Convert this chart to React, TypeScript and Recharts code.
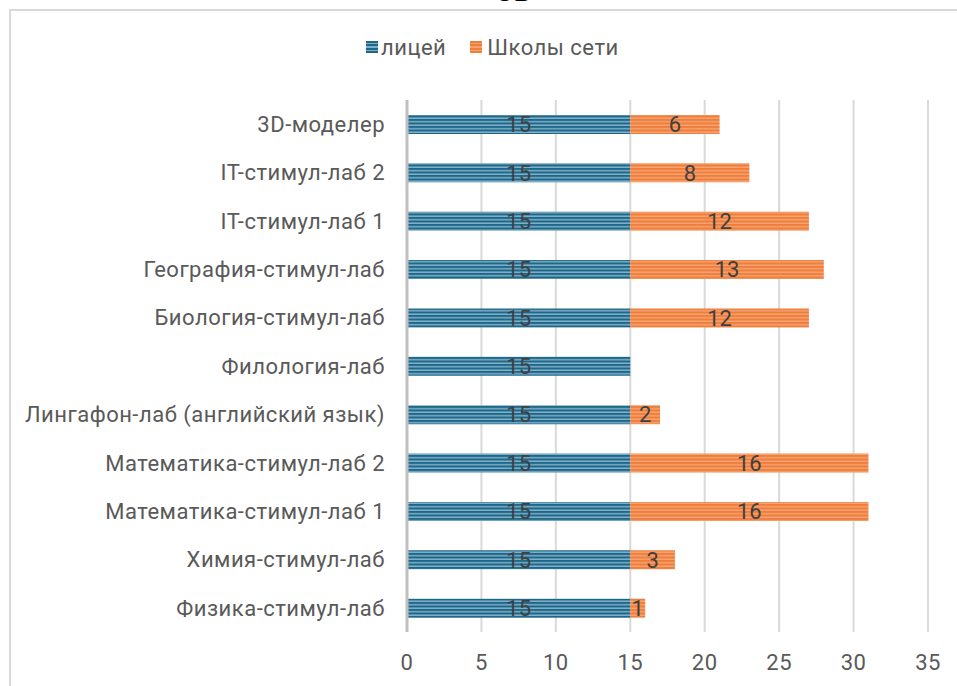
import { BarChart, Bar, XAxis, YAxis, CartesianGrid, LabelList } from 'recharts';

const categories = [
  '3D-моделер',
  'IT-стимул-лаб 2',
  'IT-стимул-лаб 1',
  'География-стимул-лаб',
  'Биология-стимул-лаб',
  'Филология-лаб',
  'Лингафон-лаб (английский язык)',
  'Математика-стимул-лаб 2',
  'Математика-стимул-лаб 1',
  'Химия-стимул-лаб',
  'Физика-стимул-лаб',
];
const lyceum = [15, 15, 15, 15, 15, 15, 15, 15, 15, 15, 15];
const schools = [6, 8, 12, 13, 12, null, 2, 16, 16, 3, 1];
const xTicks = [0, 5, 10, 15, 20, 25, 30, 35];
const seriesNames = ['лицей', 'Школы сети'];

const data = categories.map((name, i) => ({
  name,
  lyceum: lyceum[i],
  schools: schools[i],
}));

const FONT = 'Roboto, sans-serif';
const TEXT = '#595959';
const FS = 22;
const LS = 0.5;

const blueSwatch = 'repeating-linear-gradient(#1f6788 0 2px, #7fb0ca 2px 3.5px)';
const orangeSwatch = 'repeating-linear-gradient(#ef7d3c 0 2px, #f5a36f 2px 3.5px)';

export default function App() {
  return (
    <div style={{ position: 'absolute', left: 0, top: 0, width: 957, height: 686, overflow: 'hidden', background: '#fff' }}>
      {/* title of the slide, mostly cut off above the picture */}
      <div
        style={{
          position: 'absolute',
          left: 496,
          top: -19,
          fontFamily: '"Liberation Serif", serif',
          fontWeight: 'bold',
          fontSize: 22,
          letterSpacing: 2,
          color: '#000',
        }}
      >
        ОВ
      </div>
      <div
        style={{
          position: 'absolute',
          left: 9,
          top: 9,
          width: 960,
          height: 700,
          borderLeft: '2px solid #d9d9d9',
          borderTop: '2px solid #d9d9d9',
        }}
      />
      <div
        style={{
          position: 'absolute',
          left: 366,
          top: 33,
          height: 28,
          display: 'flex',
          alignItems: 'center',
          fontFamily: FONT,
          fontSize: FS,
          letterSpacing: LS,
          color: TEXT,
          whiteSpace: 'nowrap',
        }}
      >
        <span style={{ display: 'inline-block', width: 12, height: 12, backgroundImage: blueSwatch, marginRight: 3 }} />
        <span style={{ marginRight: 24 }}>{seriesNames[0]}</span>
        <span style={{ display: 'inline-block', width: 12, height: 12, backgroundImage: orangeSwatch, marginRight: 5 }} />
        <span>{seriesNames[1]}</span>
      </div>
      <div style={{ position: 'absolute', left: 0, top: 0 }}>
        <BarChart
          width={957}
          height={686}
          data={data}
          layout="vertical"
          barSize={19}
          margin={{ top: 100, right: 29, left: 0, bottom: 24 }}
        >
          <defs>
            <pattern id="blueStripe" width="4" height="3.5" patternUnits="userSpaceOnUse">
              <rect width="4" height="3.5" fill="#1f6788" />
              <rect y="2" width="4" height="1.5" fill="#7fb0ca" />
            </pattern>
            <pattern id="orangeStripe" width="4" height="3.5" patternUnits="userSpaceOnUse">
              <rect width="4" height="3.5" fill="#ef7d3c" />
              <rect y="2" width="4" height="1.5" fill="#f5a36f" />
            </pattern>
          </defs>
          <CartesianGrid horizontal={false} stroke="#d9d9d9" strokeWidth={2} />
          <XAxis
            type="number"
            domain={[0, 35]}
            ticks={xTicks}
            axisLine={false}
            tickLine={false}
            tickSize={0}
            tickMargin={22}
            height={30}
            tick={{ fill: TEXT, fontSize: FS, fontFamily: FONT, letterSpacing: LS }}
          />
          <YAxis
            type="category"
            dataKey="name"
            width={407}
            axisLine={{ stroke: '#bfbfbf', strokeWidth: 3 }}
            tickLine={false}
            tickSize={0}
            tickMargin={22}
            interval={0}
            tick={{ fill: TEXT, fontSize: FS, fontFamily: FONT, letterSpacing: LS }}
          />
          <Bar dataKey="lyceum" name={seriesNames[0]} stackId="a" fill="url(#blueStripe)" isAnimationActive={false}>
            <LabelList dataKey="lyceum" position="center" fill="#404040" fontSize={FS} fontFamily={FONT} />
          </Bar>
          <Bar dataKey="schools" name={seriesNames[1]} stackId="a" fill="url(#orangeStripe)" isAnimationActive={false}>
            <LabelList dataKey="schools" position="center" fill="#404040" fontSize={FS} fontFamily={FONT} />
          </Bar>
        </BarChart>
      </div>
    </div>
  );
}
